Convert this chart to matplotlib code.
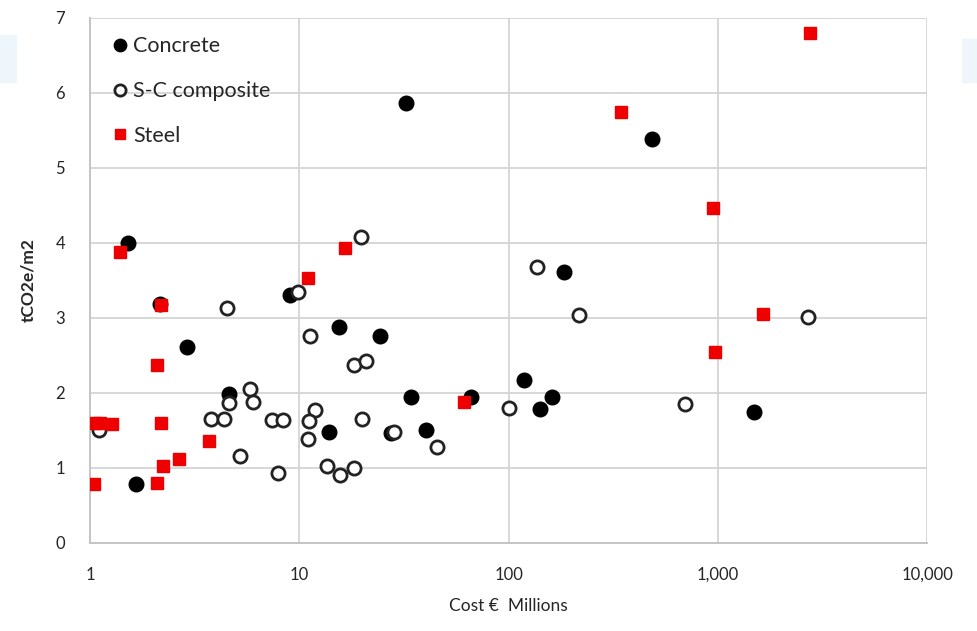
import matplotlib
matplotlib.use("Agg")
import matplotlib.pyplot as plt
from matplotlib.patches import Rectangle
from matplotlib.ticker import FuncFormatter, FixedLocator

plt.rcParams['font.family'] = ['Lato', 'DejaVu Sans']

# cost (EUR millions) and embodied carbon (tCO2e/m2) per building
concrete_cost = [1.52, 32.5, 482, 9.0, 184, 15.4, 24.2, 2.92, 4.6, 34, 66,
                 118, 162, 141, 13.8, 27.3, 40.5, 1.66, 1490, 2.16]
concrete_co2 = [4.0, 5.86, 5.39, 3.3, 3.61, 2.88, 2.76, 2.61, 1.99, 1.94, 1.94,
                2.17, 1.95, 1.78, 1.48, 1.46, 1.51, 0.79, 1.74, 3.19]

composite_cost = [1.1, 3.78, 4.38, 4.6, 4.5, 5.8, 6.0, 5.2, 7.4, 8.4, 7.9,
                  9.9, 11.3, 11.9, 11.1, 11.0, 13.5, 15.7, 18.2, 18.2, 20.9,
                  20, 19.8, 28.3, 45.6, 101, 137, 217, 700, 2690]
composite_co2 = [1.51, 1.65, 1.65, 1.86, 3.13, 2.05, 1.88, 1.16, 1.64, 1.64, 0.93,
                 3.35, 2.76, 1.77, 1.62, 1.39, 1.03, 0.91, 1.0, 2.37, 2.43,
                 1.65, 4.08, 1.48, 1.28, 1.8, 3.68, 3.04, 1.85, 3.01]

steel_cost = [1.04, 1.06, 1.12, 1.27, 1.39, 2.1, 2.18, 2.19, 2.1, 2.23, 2.65,
              3.7, 11, 16.5, 61, 343, 943, 970, 1640, 2770]
steel_co2 = [0.78, 1.6, 1.6, 1.59, 3.88, 2.37, 3.17, 1.6, 0.8, 1.03, 1.12,
             1.36, 3.53, 3.93, 1.88, 5.74, 4.46, 2.55, 3.05, 6.8]

x_ticks = [1, 10, 100, 1000, 10000]
y_ticks = [0, 1, 2, 3, 4, 5, 6, 7]

text_col = '#262626'
grid_col = '#d4d4d4'

fig = plt.figure(figsize=(9.78, 6.31), dpi=100)
ax = fig.add_axes([0.092, 0.1395, 0.856, 0.832])

# faint blue strips at the page edges
fig.patches.append(Rectangle((0, 0.87), 0.016, 0.075, transform=fig.transFigure,
                             color='#eef5fb', zorder=0))
fig.patches.append(Rectangle((0.984, 0.87), 0.016, 0.068, transform=fig.transFigure,
                             color='#eef5fb', zorder=0))

ax.plot(concrete_cost, concrete_co2, 'o', ms=10.5, color='black',
        mec='black', label='Concrete', zorder=3)
ax.plot(composite_cost, composite_co2, 'o', ms=9.5, mfc='white',
        mec='#222222', mew=2.0, label='S-C composite', zorder=3)
ax.plot(steel_cost, steel_co2, 's', ms=8.5, color='#ee0000',
        mec='#ee0000', label='Steel', zorder=4)

ax.set_xscale('log')
ax.set_xlim(1, 10000)
ax.set_ylim(0, 7)
ax.xaxis.set_major_locator(FixedLocator(x_ticks))
ax.xaxis.set_minor_locator(FixedLocator([]))
ax.xaxis.set_major_formatter(FuncFormatter(lambda v, p: f'{v:,.0f}'))
ax.set_yticks(y_ticks)

ax.grid(True, color=grid_col, lw=1.3)
ax.set_axisbelow(True)
for side in ['top', 'right']:
    ax.spines[side].set_visible(False)
for side in ['left', 'bottom']:
    ax.spines[side].set_color('#c4c4c4')
    ax.spines[side].set_linewidth(1.4)

ax.tick_params(length=0, labelsize=12, colors=text_col, pad=17)
ax.tick_params(axis='y', pad=18)

ax.set_xlabel('Cost €  Millions', fontsize=12.5, color=text_col, labelpad=11)
ax.set_ylabel('tCO2e/m2', fontsize=12.5, color=text_col, labelpad=14,
              fontweight='bold')

leg = ax.legend(loc='upper left', frameon=False, fontsize=15.5,
                labelspacing=1.15, handletextpad=0.05, handlelength=1.1,
                borderaxespad=0.45, markerscale=0.85)
for t in leg.get_texts():
    t.set_color(text_col)

fig.savefig('out.png', dpi=100)
